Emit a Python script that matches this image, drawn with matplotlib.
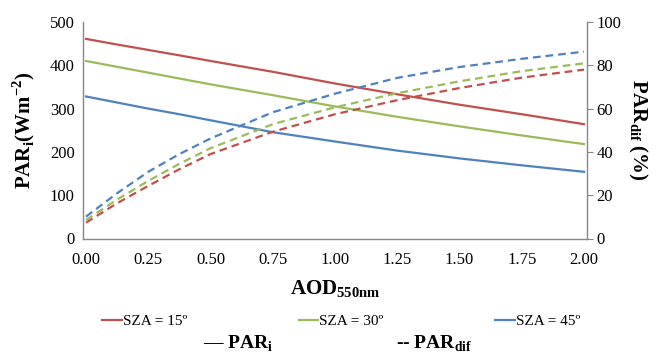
import numpy as np
import matplotlib
matplotlib.use("Agg")
import matplotlib.pyplot as plt

plt.rcParams["font.family"] = "Liberation Serif"
plt.rcParams["mathtext.fontset"] = "custom"
plt.rcParams["mathtext.rm"] = "Liberation Serif"
plt.rcParams["mathtext.bf"] = "Liberation Serif:bold"

# ---- data ----
aod = [0.0, 0.125, 0.25, 0.375, 0.5, 0.75, 1.0, 1.25, 1.5, 1.75, 2.0]
sza_labels = ["SZA = 15º", "SZA = 30º", "SZA = 45º"]
colors = ["#C0504D", "#9BBB59", "#4F81BD"]

# PAR_i (W m-2), left axis
par_i_15 = [461, 448, 435.5, 423, 410, 385, 358, 333, 309, 287, 264]
par_i_30 = [410, 396.5, 383, 369.5, 356, 331, 305, 281, 259, 238, 218]
par_i_45 = [328, 314, 300, 287, 273, 245.5, 224, 203, 185, 169, 154]

# PAR_dif (%), right axis
par_dif_15 = [7.3, 16.3, 24.3, 32.0, 39.0, 49.3, 57.4, 63.9, 69.5, 74.3, 78.0]
par_dif_30 = [8.5, 18.0, 26.6, 34.5, 41.7, 52.8, 60.6, 67.1, 72.6, 77.3, 80.9]
par_dif_45 = [10.1, 20.9, 30.8, 39.0, 46.2, 58.3, 66.9, 74.2, 79.2, 83.0, 86.3]

par_i = [par_i_15, par_i_30, par_i_45]
par_dif = [par_dif_15, par_dif_30, par_dif_45]

# ---- figure ----
fig = plt.figure(figsize=(6.56, 3.55), dpi=100)
ax = fig.add_axes([83 / 656, 1 - 238.5 / 355, (587 - 83) / 656, (238.5 - 22) / 355])
ax2 = ax.twinx()

for yi, c, lab in zip(par_i, colors, sza_labels):
    ax.plot(aod, yi, color=c, lw=1.6, label=lab)
for yd, c in zip(par_dif, colors):
    ax2.plot(aod, yd, color=c, lw=1.6, dashes=(3.5, 2.2))

axis_grey = "#868686"
ax.set_xlim(-0.012, 2.012)
ax.set_ylim(0, 500)
ax2.set_ylim(0, 100)
ax.set_xticks(np.arange(0, 2.01, 0.25))
ax.set_xticklabels([f"{v:.2f}" for v in np.arange(0, 2.01, 0.25)])
ax.set_yticks(range(0, 501, 100))
ax2.set_yticks(range(0, 101, 20))

for a in (ax, ax2):
    a.spines["top"].set_visible(False)
    for s in ("left", "right", "bottom"):
        a.spines[s].set_color(axis_grey)
        a.spines[s].set_linewidth(1.0)
ax.spines["right"].set_visible(False)
ax2.spines["left"].set_visible(False)
ax2.spines["bottom"].set_visible(False)

ax.tick_params(axis="both", length=0, labelsize=12, pad=6)
ax.tick_params(axis="x", pad=10)
ax2.tick_params(axis="y", length=4, color=axis_grey, labelsize=12, pad=3)

ax.set_ylabel(r"PAR$_\mathbf{i}$(Wm$^{\mathbf{-2}}$)", fontsize=15,
              fontweight="bold", labelpad=9)
ax2.set_ylabel(r"PAR$_\mathbf{dif}$ (%)", fontsize=15, fontweight="bold",
               rotation=270, labelpad=20)
ax.set_xlabel(r"AOD$_\mathbf{550nm}$", fontsize=15, fontweight="bold", labelpad=7)

fig.legend(loc="center", bbox_to_anchor=(341 / 656, 1 - 321 / 355), ncol=3,
           frameon=False, fontsize=11, handlelength=1.3, handletextpad=0.05,
           columnspacing=7.3, borderpad=0)

fig.text(203 / 656, 1 - 344 / 355, r"— PAR$_\mathbf{i}$", fontsize=14,
         fontweight="bold", ha="left", va="center")
fig.text(396 / 656, 1 - 344 / 355, r"-- PAR$_\mathbf{dif}$", fontsize=14,
         fontweight="bold", ha="left", va="center")

fig.savefig("out.png", dpi=100)
